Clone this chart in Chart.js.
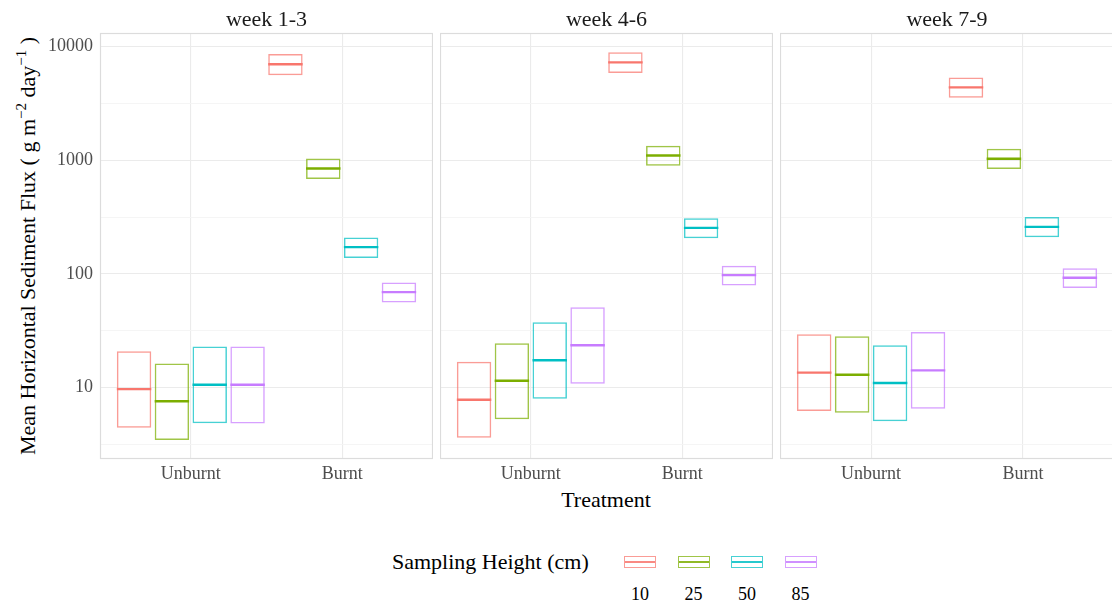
<!DOCTYPE html>
<html>
<head>
<meta charset="utf-8">
<script src="https://cdn.jsdelivr.net/npm/chart.js@4.4.1/dist/chart.umd.min.js"></script>
<style>
  html, body { margin: 0; padding: 0; background: #ffffff; }
  body { width: 1112px; height: 603px; position: relative; overflow: hidden;
         font-family: 'Liberation Serif', 'Times New Roman', serif; }
  canvas { position: absolute; }
  .txt { position: absolute; white-space: nowrap; }
  .strip { font-size: 22px; line-height: 22px; color: #1a1a1a; text-align: center; top: 8px; }
  .axis-title { font-size: 22px; line-height: 24px; color: #000000; }
  .ytitle { width: 480px; text-align: center; transform: rotate(-90deg); transform-origin: 50% 50%; }
  .ytitle sup { font-size: 15px; line-height: 0; vertical-align: 9px; }
  .key { position: absolute; box-sizing: border-box; }
  .key i { position: absolute; left: 0; right: 0; top: 50%; margin-top: -1px; height: 1.6px; }
  .key-label { font-size: 18px; line-height: 18px; color: #000000; text-align: center; width: 40px; }
</style>
</head>
<body>

<div class="txt axis-title ytitle" style="left:-212px; top:234px;">Mean Horizontal Sediment Flux ( g m<sup>−2</sup> day<sup>−1</sup> )</div>
<div class="txt axis-title" style="left:0; width:1112px; padding-left:100px; box-sizing:border-box; text-align:center; top:488px;">Treatment</div>
<div class="txt axis-title" style="left:392px; top:550px;">Sampling Height (cm)</div>
<div id="legend"></div>

<script>
// Treatment categories, facets and sampling heights
const categories = ['Unburnt', 'Burnt'];
const weeks = ['week 1-3', 'week 4-6', 'week 7-9'];
const heights = ['10', '25', '50', '85'];
const heightColours = ['#F8766D', '#7CAE00', '#00BFC4', '#C77CFF'];

// Rows: sampling height 10, 25, 50, 85 cm; columns: Unburnt, Burnt
const week13Lower = [[4.45, 5560], [3.47, 681], [4.87, 138], [4.83, 56.0]];
const week13Mean  = [[9.7, 6950], [7.6, 845], [10.6, 172], [10.6, 69.1]];
const week13Upper = [[20.9, 8580], [16.3, 1035], [23.0, 209], [23.0, 83.9]];

const week46Lower = [[3.63, 5830], [5.27, 892], [8.0, 206], [10.8, 79]];
const week46Mean  = [[7.84, 7230], [11.5, 1099], [17.4, 254], [23.6, 97.5]];
const week46Upper = [[16.9, 8860], [24.6, 1337], [37.6, 309], [50.9, 118]];

const week79Lower = [[6.24, 3540], [6.03, 834], [5.06, 210], [6.53, 75]];
const week79Mean  = [[13.55, 4360], [13.0, 1028], [11.0, 259], [14.2, 92.4]];
const week79Upper = [[29.5, 5310], [28.3, 1259], [23.6, 316], [30.9, 112]];

// Log axis: labelled breaks and the minor breaks halfway between them
const yLabelTicks = [10, 100, 1000, 10000];
const yMinorTicks = [3.16, 31.6, 316, 3160];
const yMin = 2.36;
const yMax = 13100;

const facets = [
  { title: weeks[0], lower: week13Lower, mean: week13Mean, upper: week13Upper },
  { title: weeks[1], lower: week46Lower, mean: week46Mean, upper: week46Upper },
  { title: weeks[2], lower: week79Lower, mean: week79Mean, upper: week79Upper }
];

// Panel geometry (canvas placement)
const panelLefts = [0, 440, 780];
const panelWidths = [333, 333, 334];
const yAxisWidth = 100;
const canvasTop = 9;
const padTop = 24;
const plotHeight = 426;
const xAxisHeight = 30;

function withAlpha(hex, a) {
  const n = parseInt(hex.slice(1), 16);
  return `rgba(${(n >> 16) & 255}, ${(n >> 8) & 255}, ${n & 255}, ${a})`;
}

// Draws the mean line across each crossbar and the panel frame
const crossbarPlugin = {
  id: 'crossbarMeans',
  afterDatasetsDraw(chart) {
    const ctx = chart.ctx;
    const yScale = chart.scales.y;
    ctx.save();
    chart.data.datasets.forEach((ds, i) => {
      const meta = chart.getDatasetMeta(i);
      meta.data.forEach((bar, j) => {
        const y = yScale.getPixelForValue(ds.means[j]);
        const half = bar.width / 2;
        ctx.beginPath();
        ctx.strokeStyle = ds.meanColour;
        ctx.lineWidth = 2.4;
        ctx.moveTo(bar.x - half, y);
        ctx.lineTo(bar.x + half, y);
        ctx.stroke();
      });
    });
    const a = chart.chartArea;
    ctx.strokeStyle = '#dcdcdc';
    ctx.lineWidth = 1.2;
    ctx.strokeRect(a.left + 0.5, a.top + 0.5, a.right - a.left - 1, a.bottom - a.top - 1);
    ctx.restore();
  }
};

facets.forEach((facet, p) => {
  const showY = p === 0;
  const canvas = document.createElement('canvas');
  const w = (showY ? yAxisWidth : 0) + panelWidths[p];
  const h = padTop + plotHeight + xAxisHeight;
  canvas.width = w;
  canvas.height = h;
  canvas.style.left = panelLefts[p] + 'px';
  canvas.style.top = canvasTop + 'px';
  canvas.style.width = w + 'px';
  canvas.style.height = h + 'px';
  document.body.appendChild(canvas);

  const strip = document.createElement('div');
  strip.className = 'txt strip';
  strip.style.left = (panelLefts[p] + (showY ? yAxisWidth : 0)) + 'px';
  strip.style.width = panelWidths[p] + 'px';
  strip.textContent = facet.title;
  document.body.appendChild(strip);

  const datasets = heights.map((hgt, i) => ({
    label: hgt,
    data: categories.map((c, j) => ({ x: j + 1, y: [facet.lower[i][j], facet.upper[i][j]] })),
    means: categories.map((c, j) => facet.mean[i][j]),
    meanColour: heightColours[i],
    borderColor: withAlpha(heightColours[i], 0.72),
    backgroundColor: 'rgba(0,0,0,0)',
    borderWidth: 1.5,
    borderSkipped: false,
    inflateAmount: 0,
    categoryPercentage: 1.0,
    barPercentage: 0.91
  }));

  new Chart(canvas, {
    type: 'bar',
    data: { datasets },
    plugins: [crossbarPlugin],
    options: {
      responsive: false,
      animation: false,
      devicePixelRatio: 1,
      layout: { padding: { top: padTop, left: 0, right: 0, bottom: 0 } },
      plugins: { legend: { display: false }, tooltip: { enabled: false } },
      scales: {
        x: {
          type: 'linear',
          min: 0.4,
          max: 2.6,
          offset: false,
          border: { display: false },
          grid: { offset: false, color: '#ebebeb', lineWidth: 1.1, drawTicks: false },
          afterBuildTicks: (s) => { s.ticks = categories.map((c, j) => ({ value: j + 1 })); },
          afterFit: (s) => { s.height = xAxisHeight; },
          ticks: {
            autoSkip: false,
            maxRotation: 0,
            padding: 4,
            color: '#4d4d4d',
            font: { family: "'Liberation Serif', serif", size: 18 },
            callback: (v) => categories[Math.round(v) - 1] || ''
          }
        },
        y: {
          type: 'logarithmic',
          min: yMin,
          max: yMax,
          beginAtZero: false,
          border: { display: false },
          grid: {
            drawTicks: false,
            color: (c) => yLabelTicks.includes(c.tick.value) ? '#ebebeb' : '#f4f4f4',
            lineWidth: (c) => yLabelTicks.includes(c.tick.value) ? 1.1 : 0.9
          },
          afterBuildTicks: (s) => {
            s.ticks = yMinorTicks.concat(yLabelTicks).sort((a, b) => a - b).map(v => ({ value: v }));
          },
          afterFit: (s) => { s.width = showY ? yAxisWidth : 0; },
          ticks: {
            display: showY,
            autoSkip: false,
            padding: 7,
            color: '#4d4d4d',
            font: { family: "'Liberation Serif', serif", size: 18 },
            callback: (v) => yLabelTicks.includes(v) ? String(v) : ''
          }
        }
      }
    }
  });
});

// Legend: crossbar keys with height labels underneath
const legend = document.getElementById('legend');
heights.forEach((hgt, i) => {
  const left = 624 + i * 53.5;
  const key = document.createElement('div');
  key.className = 'key';
  key.style.left = left + 'px';
  key.style.top = '556px';
  key.style.width = '32px';
  key.style.height = '12px';
  key.style.border = '1.5px solid ' + withAlpha(heightColours[i], 0.72);
  const mid = document.createElement('i');
  mid.style.background = withAlpha(heightColours[i], 0.85);
  key.appendChild(mid);
  legend.appendChild(key);

  const lab = document.createElement('div');
  lab.className = 'txt key-label';
  lab.style.left = (left - 4) + 'px';
  lab.style.top = '585px';
  lab.textContent = hgt;
  legend.appendChild(lab);
});
</script>
</body>
</html>
